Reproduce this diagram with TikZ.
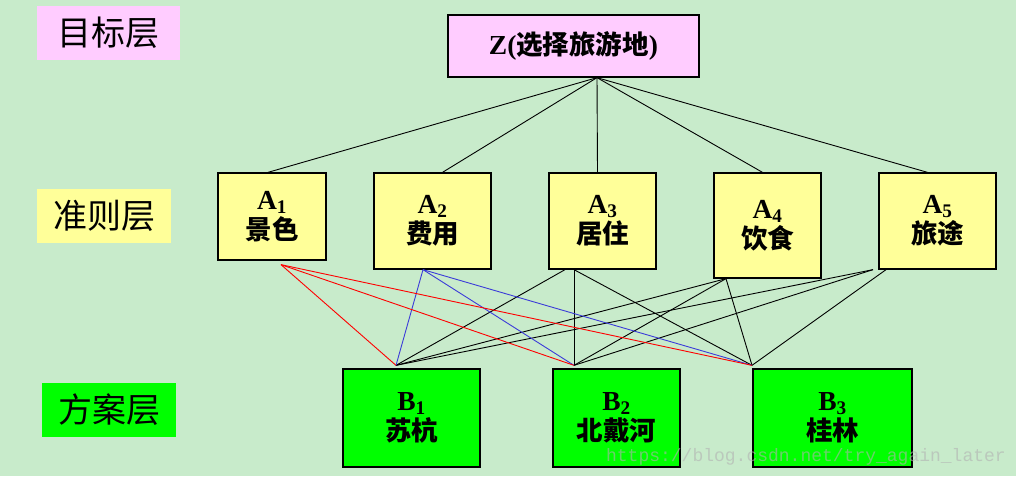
\documentclass[tikz,border=0pt]{standalone}
\usepackage{fontspec}
\setmainfont{Liberation Serif}
\setmonofont{Liberation Mono}
\newfontfamily\cjk{Noto Sans CJK SC}
\usepackage{tikz}
\definecolor{BgGreen}   {HTML}{C8EBCB}
\definecolor{GoalPink}  {HTML}{FFCCFF}
\definecolor{CritYellow}{HTML}{FFFF99}
\definecolor{PlanGreen} {HTML}{00FF00}
\definecolor{LinkBlue}  {HTML}{3B3BD9}

\tikzset{
  layer/.style={inner sep=0pt, minimum height=54pt, font=\cjk\fontsize{34}{34}\selectfont},
  box/.style={draw, line width=1.3pt, align=center, inner sep=0pt,
              font=\bfseries\fontsize{27.5}{30}\selectfont},
  goalbox/.style={box, fill=GoalPink, minimum width=251pt, minimum height=62pt},
  critbox/.style={box, fill=CritYellow},
  planbox/.style={box, fill=PlanGreen, minimum height=98pt},
  link/.style={line width=0.9pt},
}
\newcommand{\zh}[1]{{\cjk\fontsize{26.5}{30}\selectfont #1}}

\begin{document}
\begin{tikzpicture}[x=1pt, y=-1pt]
      % ── background ───────────────────────────────────────────────────────────
      \fill[BgGreen] (0,0) rectangle (1016,476);
      \useasboundingbox (0,0) rectangle (1016,476);
      % ── layer labels ─────────────────────────────────────────────────────────
      \node[layer, fill=GoalPink,   minimum width=143pt] (goal) at (108.5,33) {目标层};
      \node[layer, fill=CritYellow, minimum width=134pt] (crit) at (104,216)  {准则层};
      \node[layer, fill=PlanGreen,  minimum width=134pt] (plan) at (109,410)  {方案层};
      % ── goal ─────────────────────────────────────────────────────────────────
      \node[goalbox] (z) at (573.5,46) {Z(\zh{选择旅游地})};
      % ── criteria ─────────────────────────────────────────────────────────────
      \node[critbox, minimum width=108pt, minimum height=87pt]  (a1) at (272,216.5) {A\textsubscript{1}\\\zh{景色}};
      \node[critbox, minimum width=117pt, minimum height=96pt]  (a2) at (432.5,221) {A\textsubscript{2}\\\zh{费用}};
      \node[critbox, minimum width=107pt, minimum height=96pt]  (a3) at (602.5,221) {A\textsubscript{3}\\\zh{居住}};
      \node[critbox, minimum width=107pt, minimum height=105pt] (a4) at (767.5,225.5) {A\textsubscript{4}\\\zh{饮食}};
      \node[critbox, minimum width=117pt, minimum height=96pt]  (a5) at (937.5,221) {A\textsubscript{5}\\\zh{旅途}};
      % ── alternatives ─────────────────────────────────────────────────────────
      \node[planbox, minimum width=137pt] (b1) at (411.5,418) {B\textsubscript{1}\\\zh{苏杭}};
      \node[planbox, minimum width=127pt] (b2) at (616.5,418) {B\textsubscript{2}\\\zh{北戴河}};
      \node[planbox, minimum width=159pt] (b3) at (832.5,418) {B\textsubscript{3}\\\zh{桂林}};
      % ── joints on the box edges ──────────────────────────────────────────────
      \coordinate (zb)  at ([xshift=23.5pt]z.south);
      \coordinate (b1t) at ([xshift=-15.5pt, yshift=3pt]b1.north);
      \coordinate (b2t) at ([xshift=-42.5pt, yshift=3pt]b2.north);
      \coordinate (b3t) at ([xshift=-80.5pt, yshift=3pt]b3.north);
      % ── goal to criteria ─────────────────────────────────────────────────────
      \foreach \n/\s in {a1/-4, a2/10, a3/-5, a4/-5, a5/-10} {
        \draw[link] (zb) -- ([xshift=\s pt]\n.north);
      }
      % ── criteria to alternatives ─────────────────────────────────────────────
      \foreach \n/\s/\b in {a3/-37.5/b1, a3/-28.5/b2, a3/-28.5/b3,
                            a4/-41.5/b1, a4/-41.5/b2, a4/-41.5/b3,
                            a5/-64.5/b1, a5/-64.5/b2, a5/-51.5/b3} {
        \draw[link] ([xshift=\s pt]\n.south) -- (\b t);
      }
      \foreach \b in {b1,b2,b3} {
        \draw[link, LinkBlue] ([xshift=-9.5pt]a2.south) -- (\b t);
        \draw[link, red] ([xshift=9pt, yshift=-4pt]a1.south) -- (\b t);
      }
      % ── watermark ────────────────────────────────────────────────────────────
      \node[font=\ttfamily\fontsize{18}{18}\selectfont, text=white!70!black, opacity=0.6,
            anchor=east, inner sep=0pt] (mark) at (1006,457) {https://blog.csdn.net/try\_again\_later};
\end{tikzpicture}
\end{document}
